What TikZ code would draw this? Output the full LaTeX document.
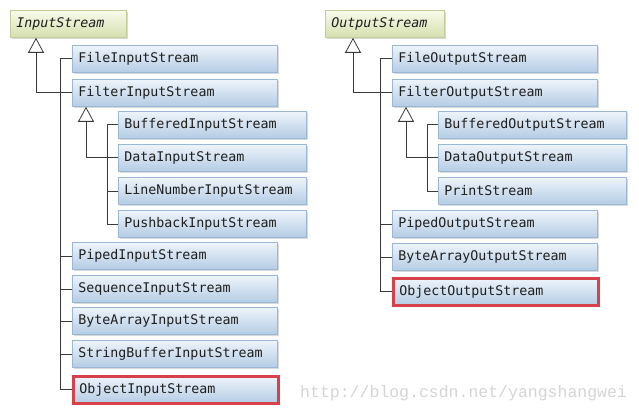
\documentclass[tikz,border=0pt]{standalone}
\usepackage{fontspec}
\setmonofont{DejaVu Sans Mono}
\newfontfamily\wmfont{Liberation Mono}
\usetikzlibrary{arrows.meta,shadows,calc}
\definecolor{boxtop}{HTML}{EEF4FB}
\definecolor{boxbot}{HTML}{B4CCE4}
\definecolor{boxline}{HTML}{9AB8D6}
\definecolor{roottop}{HTML}{F9FBEA}
\definecolor{rootbot}{HTML}{D4DFAE}
\definecolor{rootline}{HTML}{C2CE9A}
\definecolor{redline}{HTML}{D9414A}
\definecolor{txt}{HTML}{1E1E1E}
\definecolor{conn}{HTML}{3A3A3A}
\tikzset{
  cls/.style={rectangle, anchor=north west, draw=boxline, line width=0.8pt,
    top color=boxtop, bottom color=boxbot, minimum height=27pt, inner xsep=6pt, inner ysep=0pt,
    align=left, text=txt, font=\ttfamily\fontsize{13.3}{15}\selectfont,
    drop shadow={shadow xshift=1.3pt, shadow yshift=-1.5pt, opacity=0.3}},
  wide/.style={cls, text width=193pt},
  narrow/.style={cls, text width=176pt},
  rootcls/.style={cls, draw=rootline, top color=roottop, bottom color=rootbot,
    font=\ttfamily\itshape\fontsize{13.3}{15}\selectfont},
  marked/.style={draw=redline, line width=2.6pt},
  conline/.style={draw=conn, line width=0.8pt},
  gen/.style={conline, -{Triangle[length=15pt,width=16pt,fill=white,line width=0.8pt]}},
  wm/.style={anchor=north west, inner sep=0pt, text=black!17, font=\wmfont\fontsize{16.5}{18}\selectfont}
}
\begin{document}
\begin{tikzpicture}[x=1pt,y=-1pt]
\useasboundingbox (0,0) rectangle (639,414);
% ---------- left tree ----------
\node[rootcls, text width=104pt] (in) at (10,10) {InputStream};
\node[wide] (file) at (72,45) {FileInputStream};
\node[wide] (filter) at (72,79) {FilterInputStream};
\node[narrow] (buff) at (118,111) {BufferedInputStream};
\node[narrow] (data) at (118,144) {DataInputStream};
\node[narrow] (lnum) at (118,177) {LineNumberInputStream};
\node[narrow] (push) at (118,210) {PushbackInputStream};
\node[wide] (piped) at (72,242) {PipedInputStream};
\node[wide] (seq) at (72,275) {SequenceInputStream};
\node[wide] (barr) at (72,307) {ByteArrayInputStream};
\node[wide] (sbuf) at (72,340) {StringBufferInputStream};
\node[wide, marked] (objin) at (72,375) {ObjectInputStream};
\coordinate (inT) at ($(in.south west)+(26,0)$);
\coordinate (filterT) at ($(filter.south west)+(14,0)$);
\coordinate (busA) at ($(file.west)+(-12,0)$);
\coordinate (busB) at ($(buff.west)+(-11,0)$);
\draw[conline] (file.west) -- (busA) |- (objin.west);
\foreach \n in {piped,seq,barr,sbuf} \draw[conline] (\n.west) -- (\n.west -| busA);
\draw[gen] (filter.west) -| (inT);
\draw[conline] (buff.west) -- (busB) |- (push.west);
\draw[conline] (lnum.west) -- (lnum.west -| busB);
\draw[gen] (data.west) -| (filterT);
% ---------- right tree ----------
\node[rootcls, text width=107pt] (out) at (325,10) {OutputStream};
\node[wide] (fileo) at (392,45) {FileOutputStream};
\node[wide] (filtero) at (392,79) {FilterOutputStream};
\node[narrow] (buffo) at (438,111) {BufferedOutputStream};
\node[narrow] (datao) at (438,144) {DataOutputStream};
\node[narrow] (print) at (438,177) {PrintStream};
\node[wide] (pipedo) at (392,210) {PipedOutputStream};
\node[wide] (barro) at (392,243) {ByteArrayOutputStream};
\node[wide, marked] (objo) at (392,277) {ObjectOutputStream};
\coordinate (outT) at ($(out.south west)+(28,0)$);
\coordinate (filteroT) at ($(filtero.south west)+(14,0)$);
\coordinate (busC) at ($(fileo.west)+(-12,0)$);
\coordinate (busD) at ($(buffo.west)+(-11,0)$);
\draw[conline] (fileo.west) -- (busC) |- (objo.west);
\foreach \n in {pipedo,barro} \draw[conline] (\n.west) -- (\n.west -| busC);
\draw[gen] (filtero.west) -| (outT);
\draw[conline] (buffo.west) -- (busD) |- (print.west);
\draw[gen] (datao.west) -| (filteroT);
% ---------- watermark ----------
\node[wm] (mark) at (300,385) {http://blog.csdn.net/yangshangwei};
\end{tikzpicture}
\end{document}
